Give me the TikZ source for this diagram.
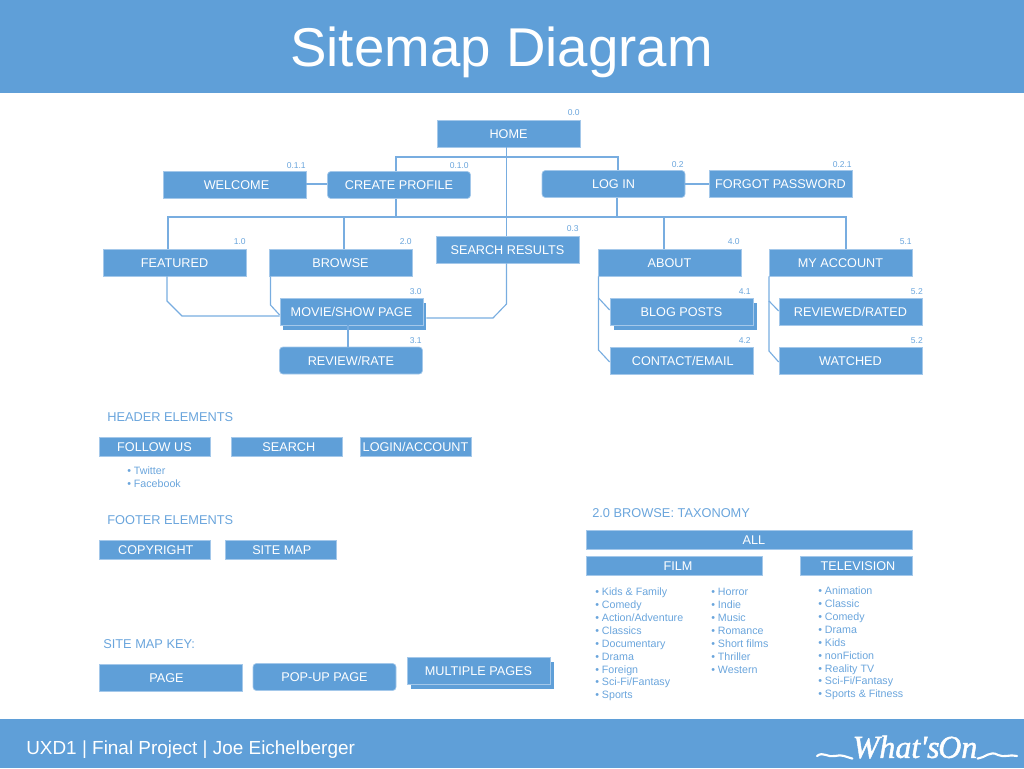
\documentclass[tikz,border=0pt]{standalone}
\usepackage{fontspec}
\setmainfont{Liberation Sans}
\newfontfamily\logofont[ItalicFeatures={FakeBold=1.5}]{Liberation Serif}
\usetikzlibrary{calc}
\definecolor{band}{HTML}{5F9FD8}
\definecolor{edge}{HTML}{A4C8EA}
\definecolor{wire}{HTML}{78ADE0}
\definecolor{ink}{HTML}{6AA5DC}
\tikzset{
  x=0.75pt,y=-0.75pt,
  box/.style={draw=edge,line width=0.5pt,fill=band,text=white,inner sep=0pt,text height=6.8pt,text depth=0pt,font=\fontsize{9.5}{11}\selectfont},
  pagebox/.style={box,minimum width=107.25pt,minimum height=20.25pt},
  popbox/.style={pagebox,rounded corners=2.5pt},
  smallbox/.style={box,minimum width=83.25pt,minimum height=14.25pt},
  backbox/.style={fill=band,draw=none,minimum width=107.25pt,minimum height=20.25pt,inner sep=0pt},
  wirestyle/.style={draw=wire,line width=0.85pt,line join=miter},
  numlabel/.style={text=ink,anchor=east,inner sep=0pt,font=\fontsize{6.4}{7}\selectfont},
  heading/.style={text=ink,anchor=west,inner sep=0pt,font=\fontsize{9.6}{11}\selectfont},
  listing/.style={text=ink,anchor=north west,align=left,inner sep=0pt,font=\fontsize{8}{9.72}\selectfont},
}
\newcommand{\firstline}{\rule{0pt}{8pt}}
\begin{document}
\begin{tikzpicture}
\useasboundingbox (0,0) rectangle (1024,768);
% bands
\fill[band] (0,0) rectangle (1024,93);
\fill[band] (0,719) rectangle (1024,768);
\node[text=white,inner sep=0pt,font=\fontsize{41}{45}\selectfont] (title) at (501.5,52.5) {Sitemap Diagram};
\node[text=white,anchor=west,inner sep=0pt,font=\fontsize{14.2}{16}\selectfont] (credit) at (26,749.5) {UXD1 | Final Project | Joe Eichelberger};

% stacked-page shadows
\node[backbox] (movieback) at (354.5,316) {};
\node[backbox] (blogback) at (685,316) {};
\node[backbox] (multiback) at (482,675) {};

% pages
\node[pagebox] (home) at (508.5,133.5) {HOME};
\node[pagebox] (welcome) at (234.5,184.5) {\hspace*{3pt}WELCOME};
\node[popbox] (create) at (399,185) {CREATE PROFILE};
\node[popbox] (login) at (613.5,184) {LOG IN};
\node[pagebox] (forgot) at (780.5,183.5) {FORGOT PASSWORD};
\node[pagebox] (featured) at (174.5,262.5) {FEATURED};
\node[pagebox] (browse) at (340.5,262.5) {BROWSE};
\node[pagebox] (search) at (507.5,249.5) {SEARCH RESULTS};
\node[pagebox] (about) at (669.5,262.5) {ABOUT};
\node[pagebox] (account) at (840.5,262.5) {MY ACCOUNT};
\node[pagebox] (movie) at (351.5,311.5) {MOVIE/SHOW PAGE};
\node[popbox] (review) at (351,360.5) {REVIEW/RATE};
\node[pagebox] (blog) at (681.5,311.5) {BLOG POSTS};
\node[pagebox] (contact) at (681.5,361) {\hspace*{2pt}CONTACT/EMAIL};
\node[pagebox] (rated) at (850.5,311.5) {REVIEWED/RATED};
\node[pagebox] (watched) at (850.5,361) {WATCHED};

% number labels
\node[numlabel] (n00) at (580,113) {0.0};
\node[numlabel] (n011) at (306,165.5) {0.1.1};
\node[numlabel] (n010) at (469,165.5) {0.1.0};
\node[numlabel] (n02) at (684,164.5) {0.2};
\node[numlabel] (n021) at (852,164.5) {0.2.1};
\node[numlabel] (n10) at (246,242) {1.0};
\node[numlabel] (n20) at (412,242) {2.0};
\node[numlabel] (n03) at (579,229) {0.3};
\node[numlabel] (n40) at (740,242) {4.0};
\node[numlabel] (n51) at (912,242) {5.1};
\node[numlabel] (n30) at (422,291.5) {3.0};
\node[numlabel] (n31) at (422,341) {3.1};
\node[numlabel] (n41) at (751,291.5) {4.1};
\node[numlabel] (n42) at (751,341) {4.2};
\node[numlabel] (n52a) at (923,291.5) {5.2};
\node[numlabel] (n52b) at (923,341) {5.2};

% connector junctions
\coordinate (busTopL) at (396,157);
\coordinate (busTopR) at (618,157);
\coordinate (busMidL) at (168,217);
\coordinate (busMidB) at (344,217);
\coordinate (busMidC) at (396,217);
\coordinate (busMidL2) at (617,217);
\coordinate (busMidA) at (664,217);
\coordinate (busMidR) at (846,217);
\coordinate (trunk) at (506.5,157);

\begin{scope}[wirestyle]
\draw (trunk |- home.south) -- (trunk |- search.north);
\draw (trunk |- search.south) -- (506.5,304) -- (493,318) -- (movieback.east |- 0,318);
\draw (busTopL |- create.north) -- (busTopL) -- (busTopR) -- (busTopR |- login.north);
\draw (welcome.east |- 0,184) -- (create.west |- 0,184);
\draw (login.east |- 0,184) -- (forgot.west |- 0,184);
\draw (busMidC |- create.south) -- (busMidC);
\draw (busMidL2 |- login.south) -- (busMidL2);
\draw (busMidL |- featured.north) -- (busMidL) -- (busMidR) -- (busMidR |- account.north);
\draw (busMidB) -- (busMidB |- browse.north);
\draw (busMidA) -- (busMidA |- about.north);
\draw (167,0 |- featured.south) -- (167,301) -- (182,316) -- (movie.west |- 0,316);
\draw (270.5,0 |- browse.south) -- (270.5,305) -- (movie.west |- 0,315);
\draw (348,0 |- movie.south) -- (348,0 |- review.north);
\draw (598.5,0 |- about.south) -- (598.5,298) -- (blog.west |- 0,310);
\draw (598.5,298) -- (598.5,350) -- (contact.west |- 0,362);
\draw (769,0 |- account.south) -- (769,301) -- (rated.west |- 0,311);
\draw (769,301) -- (769,351) -- (watched.west |- 0,362);
\end{scope}

% header elements
\node[heading] (hdr) at (107,417) {HEADER ELEMENTS};
\node[smallbox] (follow) at (154.5,446.5) {FOLLOW US};
\node[smallbox] (hsearch) at (286.5,446.5) {\hspace*{3.5pt}SEARCH};
\node[smallbox] (hlogin) at (415.5,446.5) {LOGIN/ACCOUNT};
\node[listing] (social) at (127,464) {\firstline• Twitter\\• Facebook};

% footer elements
\node[heading] (ftr) at (107,520) {FOOTER ELEMENTS};
\node[smallbox] (copy) at (154.5,549.5) {\hspace*{2pt}COPYRIGHT};
\node[smallbox] (sitemap) at (280.5,549.5) {\hspace*{2pt}SITE MAP};

% key
\node[heading] (key) at (103,644) {SITE MAP KEY:};
\node[pagebox] (kpage) at (170.5,677.5) {PAGE\hspace*{6pt}};
\node[popbox] (kpop) at (324.5,677) {POP-UP PAGE};
\node[pagebox] (kmulti) at (478.5,670.5) {MULTIPLE PAGES};

% taxonomy
\node[heading] (tax) at (592,513) {2.0 BROWSE: TAXONOMY};
\node[box,minimum width=244.5pt,minimum height=14.5pt] (all) at (749,539.8) {\hspace*{7.5pt}ALL};
\node[box,minimum width=132pt,minimum height=14.5pt] (film) at (674,566) {\hspace*{6pt}FILM};
\node[box,minimum width=84pt,minimum height=14.5pt] (tv) at (856,566) {\hspace*{3pt}TELEVISION};
\node[listing] (film1) at (595,584.3) {\firstline• Kids \& Family\\• Comedy\\• Action/Adventure\\• Classics\\• Documentary\\• Drama\\• Foreign\\• Sci-Fi/Fantasy\\• Sports};
\node[listing] (film2) at (711,584.3) {\firstline• Horror\\• Indie\\• Music\\• Romance\\• Short films\\• Thriller\\• Western};
\node[listing] (tvlist) at (818,583.3) {\firstline• Animation\\• Classic\\• Comedy\\• Drama\\• Kids\\• nonFiction\\• Reality TV\\• Sci-Fi/Fantasy\\• Sports \& Fitness};

% logo
\node[text=white,inner sep=0pt,font=\logofont\itshape\fontsize{24}{26}\selectfont] (logo) at (915,747) {What's\kern-1pt On};
\draw[white,line width=1.6pt,line cap=round] (817,756) .. controls (823,751) and (828,758) .. (835,756) .. controls (842,754) and (846,757) .. (logo.south west);
\draw[white,line width=1.6pt,line cap=round] (logo.south east) .. controls (985,758) and (990,750) .. (998,755) .. controls (1004,758) and (1010,754) .. (1017,756);
\end{tikzpicture}
\end{document}
